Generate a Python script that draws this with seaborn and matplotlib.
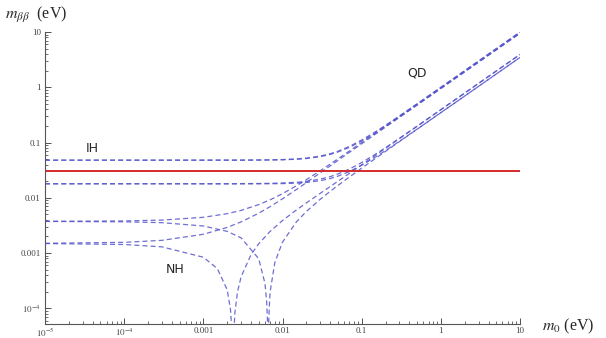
import numpy as np
import pandas as pd
import seaborn as sns
import matplotlib.pyplot as plt
from matplotlib.ticker import FixedLocator, FixedFormatter, LogLocator, NullFormatter

# lightest neutrino mass grid (eV)
m0_grid = [1e-5, 1e-4, 3e-4, 1e-3, 2e-3, 3e-3, 5e-3, 7e-3, 0.01, 0.015, 0.02, 0.03,
           0.04, 0.05, 0.07, 0.1, 0.15, 0.2, 0.3, 0.5, 1, 2, 5, 10]

# inverted hierarchy, upper / lower bands (two phase choices each)
ih_up_a = [0.0481, 0.0481, 0.0481, 0.0481, 0.0482, 0.0482, 0.0485, 0.0487, 0.0493, 0.0506,
           0.0524, 0.0570, 0.0629, 0.0697, 0.0852, 0.1112, 0.1577, 0.2058, 0.304, 0.5023,
           1.0, 2.0, 5.0, 10.0]
ih_up_b = [0.0481, 0.0481, 0.0481, 0.0481, 0.04807, 0.04808, 0.04823, 0.04842, 0.04884, 0.04992,
           0.05146, 0.05563, 0.06105, 0.0674, 0.082, 0.1066, 0.1507, 0.1966, 0.2901, 0.4793,
           0.9552, 1.91, 4.77, 9.54]
ih_lo_a = [0.01795, 0.0180, 0.0180, 0.0180, 0.0180, 0.0181, 0.0182, 0.0183, 0.0186, 0.0191,
           0.0199, 0.0218, 0.0242, 0.0270, 0.0332, 0.0435, 0.0619, 0.0809, 0.1197, 0.1979,
           0.3945, 0.788, 1.97, 3.94]
ih_lo_b = [0.01795, 0.01795, 0.01794, 0.01793, 0.01791, 0.01791, 0.01793, 0.01798, 0.0181, 0.01844,
           0.01896, 0.02043, 0.02237, 0.02466, 0.02996, 0.03892, 0.05503, 0.07173, 0.10586, 0.17487,
           0.34844, 0.696, 1.74, 3.48]

# normal hierarchy, rising branches
nh_max = [0.003758, 0.003818, 0.003955, 0.004443, 0.005169, 0.005928, 0.007533, 0.00923, 0.011898,
          0.016536, 0.021301, 0.031002, 0.040816, 0.050685, 0.070517, 0.100374, 0.150255, 0.200194,
          0.300128, 0.500079, 1.0, 2.0, 5.0, 10.0]
nh_mid = [0.001504, 0.001564, 0.001701, 0.002189, 0.002913, 0.00367, 0.005267, 0.006954, 0.009598,
          0.01418, 0.018867, 0.02836, 0.037906, 0.047465, 0.066587, 0.095252, 0.142997, 0.190722,
          0.286144, 0.476969, 0.953972, 1.908, 4.77, 9.54]

# normal hierarchy, branches with cancellation
dip1_m0 = [1e-5, 1e-4, 3e-4, 1e-3, 2e-3, 3e-3, 5e-3, 6e-3, 6.3e-3, 6.45e-3, 6.55e-3, 6.6e-3, 6.7e-3,
           6.9e-3, 7e-3, 8e-3, 0.01, 0.015, 0.02, 0.03, 0.04, 0.05, 0.07, 0.1, 0.15, 0.2, 0.3, 0.5,
           1, 2, 5, 10]
dip1_mbb = [0.003744, 0.003684, 0.003551, 0.003095, 0.002473, 0.001884, 0.000793, 0.000283, 0.000135,
            0.000061, 0.000011, 0.000013, 0.000061, 0.000158, 0.000206, 0.000678, 0.001582, 0.003684,
            0.005659, 0.009438, 0.013104, 0.016715, 0.023843, 0.034426, 0.051945, 0.069406, 0.104272,
            0.173921, 0.347972, 0.696, 1.74, 3.48]
dip2_m0 = [1e-5, 1e-4, 3e-4, 1e-3, 1.5e-3, 2e-3, 2.2e-3, 2.3e-3, 2.35e-3, 2.4e-3, 2.5e-3, 2.7e-3,
           3e-3, 4e-3, 5e-3, 7e-3, 0.01, 0.015, 0.02, 0.03, 0.04, 0.05, 0.07, 0.1, 0.15, 0.2, 0.3,
           0.5, 1, 2, 5, 10]
dip2_mbb = [0.00149, 0.00143, 0.001297, 0.000841, 0.000525, 0.000217, 0.000096, 0.000037, 0.000007,
            0.000023, 0.000082, 0.000199, 0.000374, 0.000937, 0.001473, 0.002482, 0.003882, 0.00604,
            0.008093, 0.01208, 0.016014, 0.019935, 0.027773, 0.039548, 0.059203, 0.078878, 0.118256,
            0.197031, 0.394028, 0.788, 1.97, 3.94]

bound = 0.031

x_ticks = [1e-5, 1e-4, 1e-3, 1e-2, 1e-1, 1, 10]
x_labels = [r'$10^{-5}$', r'$10^{-4}$', '0.001', '0.01', '0.1', '1', '10']
y_ticks = [1e-4, 1e-3, 1e-2, 1e-1, 1, 10]
y_labels = [r'$10^{-4}$', '0.001', '0.01', '0.1', '1', '10']

curves = [(m0_grid, ih_up_a), (m0_grid, ih_up_b), (m0_grid, ih_lo_a), (m0_grid, ih_lo_b),
          (m0_grid, nh_max), (m0_grid, nh_mid), (dip1_m0, dip1_mbb), (dip2_m0, dip2_mbb)]

sns.set_style('ticks')
plt.rcParams['mathtext.fontset'] = 'stix'

fig = plt.figure(figsize=(6.06, 3.38), dpi=100)
ax = fig.add_axes([0.0743, 0.040, 0.7838, 0.865])
ax.set_xscale('log')
ax.set_yscale('log')

blue = '#5555cc'
for xs, ys in curves:
    df = pd.DataFrame({'m0': xs, 'mbb': ys})
    sns.lineplot(data=df, x='m0', y='mbb', ax=ax, color=blue, lw=0.9, alpha=0.85,
                 linestyle=(0, (4, 2.5)), estimator=None)

ax.axhline(bound, color='#d42a2a', lw=1.4)

ax.set_xlim(1e-5, 10)
ax.set_ylim(5.1e-5, 10)
ax.set_xlabel('')
ax.set_ylabel('')

for spine in ['top', 'right']:
    ax.spines[spine].set_visible(False)
for spine in ['left', 'bottom']:
    ax.spines[spine].set_color('#555555')
    ax.spines[spine].set_linewidth(0.8)

ax.xaxis.set_major_locator(FixedLocator(x_ticks))
ax.xaxis.set_major_formatter(FixedFormatter(x_labels))
ax.yaxis.set_major_locator(FixedLocator(y_ticks))
ax.yaxis.set_major_formatter(FixedFormatter(y_labels))
ax.xaxis.set_minor_locator(LogLocator(base=10, subs=np.arange(2, 10)))
ax.yaxis.set_minor_locator(LogLocator(base=10, subs=np.arange(2, 10)))
ax.xaxis.set_minor_formatter(NullFormatter())
ax.yaxis.set_minor_formatter(NullFormatter())
ax.tick_params(which='major', direction='in', length=4, width=0.6, color='#333333',
               labelsize=6.5, labelcolor='#444444', pad=3)
ax.tick_params(axis='x', which='major', pad=1.5)
ax.tick_params(which='minor', direction='in', length=2, width=0.5, color='#333333')
for lab in ax.get_xticklabels() + ax.get_yticklabels():
    lab.set_family('Liberation Serif')

ax.text(4.0e-5, 0.077, 'IH', fontsize=9, ha='center', va='center', family='DejaVu Sans')
ax.text(0.5, 1.82, 'QD', fontsize=9, ha='center', va='center', family='DejaVu Sans')
ax.text(4.4e-4, 5.0e-4, 'NH', fontsize=9, ha='center', va='center', family='DejaVu Sans')

fig.text(0.008, 0.955, r'$m_{\beta\beta}$  (eV)', fontsize=11.5, ha='left', va='center',
         family='Liberation Serif')
fig.text(0.895, 0.035, r'$m_0$ (eV)', fontsize=11.5, ha='left', va='center',
         family='Liberation Serif')

plt.savefig('out.png', dpi=100)
